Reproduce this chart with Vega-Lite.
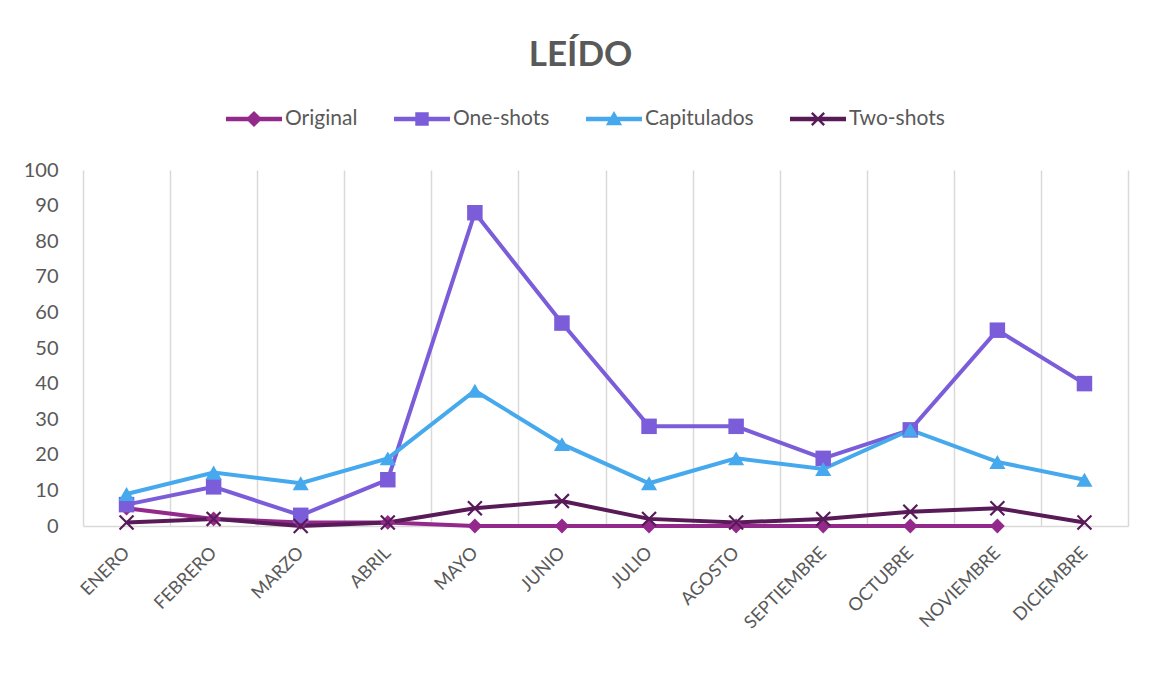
{
  "$schema": "https://vega.github.io/schema/vega-lite/v6.json",
  "autosize": {"type": "none"},
  "width": 1045,
  "height": 356,
  "padding": {"left": 83, "top": 170, "right": 25, "bottom": 148},
  "background": "white",
  "config": {"font": "Lato", "view": {"stroke": null}},
  "title": {"text": "LEÍDO", "fontSize": 35, "fontWeight": "bold", "color": "#595959", "font": "Lato", "anchor": "middle", "baseline": "alphabetic", "offset": -10, "dx": -25},
  "data": {"values": [
    {"mes": "ENERO", "serie": "Original", "v": 5},
    {"mes": "FEBRERO", "serie": "Original", "v": 2},
    {"mes": "MARZO", "serie": "Original", "v": 1},
    {"mes": "ABRIL", "serie": "Original", "v": 1},
    {"mes": "MAYO", "serie": "Original", "v": 0},
    {"mes": "JUNIO", "serie": "Original", "v": 0},
    {"mes": "JULIO", "serie": "Original", "v": 0},
    {"mes": "AGOSTO", "serie": "Original", "v": 0},
    {"mes": "SEPTIEMBRE", "serie": "Original", "v": 0},
    {"mes": "OCTUBRE", "serie": "Original", "v": 0},
    {"mes": "NOVIEMBRE", "serie": "Original", "v": 0},
    {"mes": "ENERO", "serie": "One-shots", "v": 6},
    {"mes": "FEBRERO", "serie": "One-shots", "v": 11},
    {"mes": "MARZO", "serie": "One-shots", "v": 3},
    {"mes": "ABRIL", "serie": "One-shots", "v": 13},
    {"mes": "MAYO", "serie": "One-shots", "v": 88},
    {"mes": "JUNIO", "serie": "One-shots", "v": 57},
    {"mes": "JULIO", "serie": "One-shots", "v": 28},
    {"mes": "AGOSTO", "serie": "One-shots", "v": 28},
    {"mes": "SEPTIEMBRE", "serie": "One-shots", "v": 19},
    {"mes": "OCTUBRE", "serie": "One-shots", "v": 27},
    {"mes": "NOVIEMBRE", "serie": "One-shots", "v": 55},
    {"mes": "DICIEMBRE", "serie": "One-shots", "v": 40},
    {"mes": "ENERO", "serie": "Capitulados", "v": 9},
    {"mes": "FEBRERO", "serie": "Capitulados", "v": 15},
    {"mes": "MARZO", "serie": "Capitulados", "v": 12},
    {"mes": "ABRIL", "serie": "Capitulados", "v": 19},
    {"mes": "MAYO", "serie": "Capitulados", "v": 38},
    {"mes": "JUNIO", "serie": "Capitulados", "v": 23},
    {"mes": "JULIO", "serie": "Capitulados", "v": 12},
    {"mes": "AGOSTO", "serie": "Capitulados", "v": 19},
    {"mes": "SEPTIEMBRE", "serie": "Capitulados", "v": 16},
    {"mes": "OCTUBRE", "serie": "Capitulados", "v": 27},
    {"mes": "NOVIEMBRE", "serie": "Capitulados", "v": 18},
    {"mes": "DICIEMBRE", "serie": "Capitulados", "v": 13},
    {"mes": "ENERO", "serie": "Two-shots", "v": 1},
    {"mes": "FEBRERO", "serie": "Two-shots", "v": 2},
    {"mes": "MARZO", "serie": "Two-shots", "v": 0},
    {"mes": "ABRIL", "serie": "Two-shots", "v": 1},
    {"mes": "MAYO", "serie": "Two-shots", "v": 5},
    {"mes": "JUNIO", "serie": "Two-shots", "v": 7},
    {"mes": "JULIO", "serie": "Two-shots", "v": 2},
    {"mes": "AGOSTO", "serie": "Two-shots", "v": 1},
    {"mes": "SEPTIEMBRE", "serie": "Two-shots", "v": 2},
    {"mes": "OCTUBRE", "serie": "Two-shots", "v": 4},
    {"mes": "NOVIEMBRE", "serie": "Two-shots", "v": 5},
    {"mes": "DICIEMBRE", "serie": "Two-shots", "v": 1}
  ]},
  "encoding": {
    "x": {
      "field": "mes", "type": "nominal",
      "sort": ["ENERO", "FEBRERO", "MARZO", "ABRIL", "MAYO", "JUNIO", "JULIO", "AGOSTO", "SEPTIEMBRE", "OCTUBRE", "NOVIEMBRE", "DICIEMBRE"],
      "scale": {"type": "band", "paddingInner": 0, "paddingOuter": 0},
      "axis": {"title": null, "labelAngle": -45, "labelAlign": "right", "labelBaseline": "middle", "labelFontSize": 18, "labelColor": "#595959", "labelPadding": 24, "ticks": false, "domainColor": "#D9D9D9", "domainWidth": 1.5, "grid": true, "gridColor": "#D9D9D9", "gridWidth": 1.5, "tickBand": "extent", "labelFont": "Lato"}
    },
    "y": {
      "field": "v", "type": "quantitative",
      "scale": {"domain": [0, 100], "nice": false},
      "axis": {"title": null, "values": [0, 10, 20, 30, 40, 50, 60, 70, 80, 90, 100], "grid": false, "domain": false, "ticks": false, "labelFontSize": 20, "labelColor": "#595959", "labelPadding": 25, "labelFont": "Lato"}
    },
    "color": {
      "field": "serie", "type": "nominal",
      "scale": {"domain": ["Original", "One-shots", "Capitulados", "Two-shots"], "range": ["#94298C", "#7B5CD9", "#46A9EE", "#591B58"]},
      "legend": {
        "title": null, "orient": "none", "direction": "horizontal", "legendX": 143, "legendY": -79,
        "labelFontSize": 21, "labelColor": "#595959", "labelFont": "Lato", "labelOffset": 3, "columnPadding": 36,
        "symbolSize": 3136,
        "encode": {"symbols": {"update": {
          "shape": {"signal": "datum.value === 'Original' ? 'M-1,-0.08H1V0.08H-1Z M0,-0.29L0.29,0L0,0.29L-0.29,0Z' : datum.value === 'One-shots' ? 'M-1,-0.08H1V0.08H-1Z M-0.24,-0.24H0.24V0.24H-0.24Z' : datum.value === 'Capitulados' ? 'M-1,-0.08H1V0.08H-1Z M0,-0.29L0.29,0.22H-0.29Z' : 'M-1,-0.08H1V0.08H-1Z M-0.25,-0.19L-0.19,-0.25L0.25,0.19L0.19,0.25Z M0.19,-0.25L0.25,-0.19L-0.19,0.25L-0.25,0.19Z'"},
          "fill": {"scale": "color", "field": "value"},
          "fillOpacity": {"value": 1},
          "opacity": {"value": 1},
          "stroke": {"value": "transparent"},
          "strokeWidth": {"value": 0}
        }}}
      }
    }
  },
  "layer": [
    {"mark": {"type": "line", "strokeWidth": 4}},
    {
      "transform": [{"filter": {"field": "serie", "equal": "Original"}}],
      "mark": {"type": "point", "filled": true, "opacity": 1, "size": 220, "shape": "diamond"}
    },
    {
      "transform": [{"filter": {"field": "serie", "equal": "One-shots"}}],
      "mark": {"type": "point", "filled": true, "opacity": 1, "size": 240, "shape": "square"}
    },
    {
      "transform": [{"filter": {"field": "serie", "equal": "Capitulados"}}],
      "mark": {"type": "point", "filled": true, "opacity": 1, "size": 260, "shape": "triangle-up"}
    },
    {
      "transform": [{"filter": {"field": "serie", "equal": "Two-shots"}}],
      "mark": {"type": "point", "filled": true, "opacity": 1, "size": 240, "shape": "M-1,-0.8L-0.8,-1L1,0.8L0.8,1Z M0.8,-1L1,-0.8L-0.8,1L-1,0.8Z"}
    }
  ]
}
